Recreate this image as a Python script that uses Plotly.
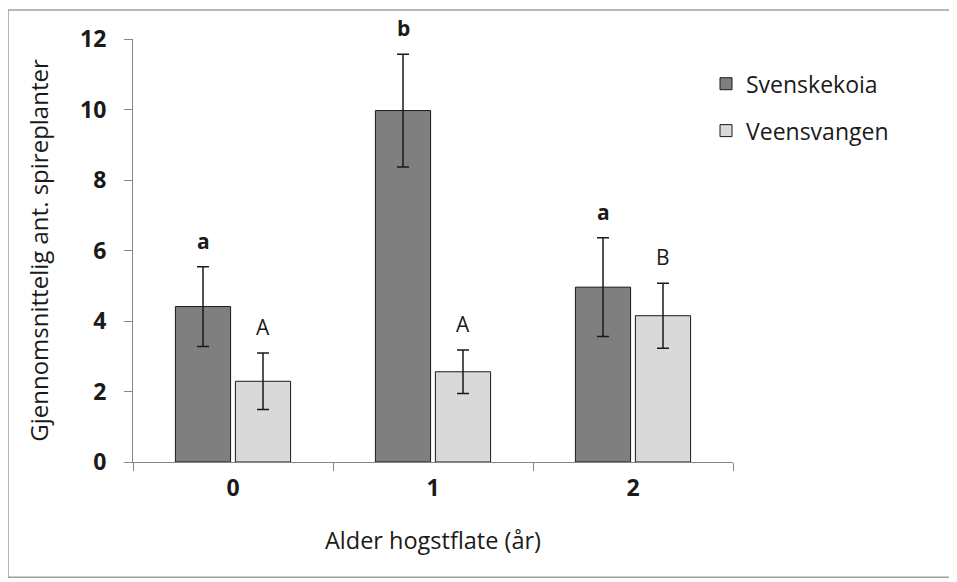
import plotly.graph_objects as go

categories = ["0", "1", "2"]
series_names = ["Svenskekoia", "Veensvangen"]
svenskekoia = [4.41, 9.97, 4.96]
svenskekoia_err = [1.13, 1.60, 1.40]
veensvangen = [2.29, 2.56, 4.15]
veensvangen_err = [0.80, 0.62, 0.92]
svenskekoia_letters = ["a", "b", "a"]
veensvangen_letters = ["A", "A", "B"]
y_ticks = [0, 2, 4, 6, 8, 10, 12]

FONT = "'Open Sans', Lato, sans-serif"
AXIS_COLOR = "#868686"
TEXT_COLOR = "#1a1a1a"
BARGAP = 0.4

fig = go.Figure()
fig.add_trace(go.Bar(
    x=categories, y=svenskekoia, name=series_names[0],
    marker=dict(color="#7f7f7f", line=dict(color="#1a1a1a", width=1)),
    error_y=dict(type="data", array=svenskekoia_err, color="#1a1a1a", thickness=1.5, width=6),
    legendgroup="g1",
))
fig.add_trace(go.Bar(
    x=categories, y=veensvangen, name=series_names[1],
    marker=dict(color="#d9d9d9", line=dict(color="#1a1a1a", width=1)),
    error_y=dict(type="data", array=veensvangen_err, color="#1a1a1a", thickness=1.5, width=6),
    legendgroup="g2",
))

# significance letters above error bars
slot = (1 - BARGAP) / 2
annotations = []
for i in range(len(categories)):
    annotations.append(dict(
        x=i - slot / 2, y=svenskekoia[i] + svenskekoia_err[i], xref="x", yref="y",
        text="<b>%s</b>" % svenskekoia_letters[i], showarrow=False,
        yanchor="bottom", yshift=10, font=dict(family=FONT, size=21, color=TEXT_COLOR)))
    annotations.append(dict(
        x=i + slot / 2, y=veensvangen[i] + veensvangen_err[i], xref="x", yref="y",
        text=veensvangen_letters[i], showarrow=False,
        yanchor="bottom", yshift=10, font=dict(family=FONT, size=21, color=TEXT_COLOR)))

fig.update_layout(
    width=957, height=582,
    margin=dict(l=125, r=232, t=31, b=128),
    paper_bgcolor="white", plot_bgcolor="white",
    barmode="group", bargap=BARGAP, bargroupgap=0.08,
    font=dict(family=FONT, color=TEXT_COLOR),
    showlegend=True,
    legend=dict(x=0.955, y=0.945, xanchor="left", yanchor="top",
                font=dict(family=FONT, size=23, color=TEXT_COLOR),
                tracegroupgap=14, traceorder="grouped", itemwidth=30,
                bgcolor="rgba(0,0,0,0)"),
    annotations=annotations,
    shapes=[dict(type="rect", xref="paper", yref="paper",
                 x0=-0.2083, x1=1.3617, y0=-0.2727, y1=1.0685,
                 line=dict(color="#a0a0a0", width=1.5), layer="below")],
)
fig.update_xaxes(
    type="category", showline=True, linecolor=AXIS_COLOR, linewidth=1.2,
    ticks="outside", tickson="boundaries", ticklen=8, tickcolor=AXIS_COLOR,
    ticklabelstandoff=5,
    tickfont=dict(family=FONT, size=23, color=TEXT_COLOR, weight="bold"),
    title=dict(text="Alder hogstflate (år)", font=dict(family=FONT, size=23.5, color=TEXT_COLOR), standoff=30),
    showgrid=False, zeroline=False,
)
fig.update_yaxes(
    range=[0, 12], tickvals=y_ticks, showline=True, linecolor=AXIS_COLOR, linewidth=1.2,
    ticks="outside", ticklen=8, tickcolor=AXIS_COLOR,
    ticklabelstandoff=13,
    tickfont=dict(family=FONT, size=23, color=TEXT_COLOR, weight="bold"),
    title=dict(text="Gjennomsnittelig ant. spireplanter", font=dict(family=FONT, size=24, color=TEXT_COLOR), standoff=24),
    showgrid=False, zeroline=False,
)

fig.write_html("out.html")
